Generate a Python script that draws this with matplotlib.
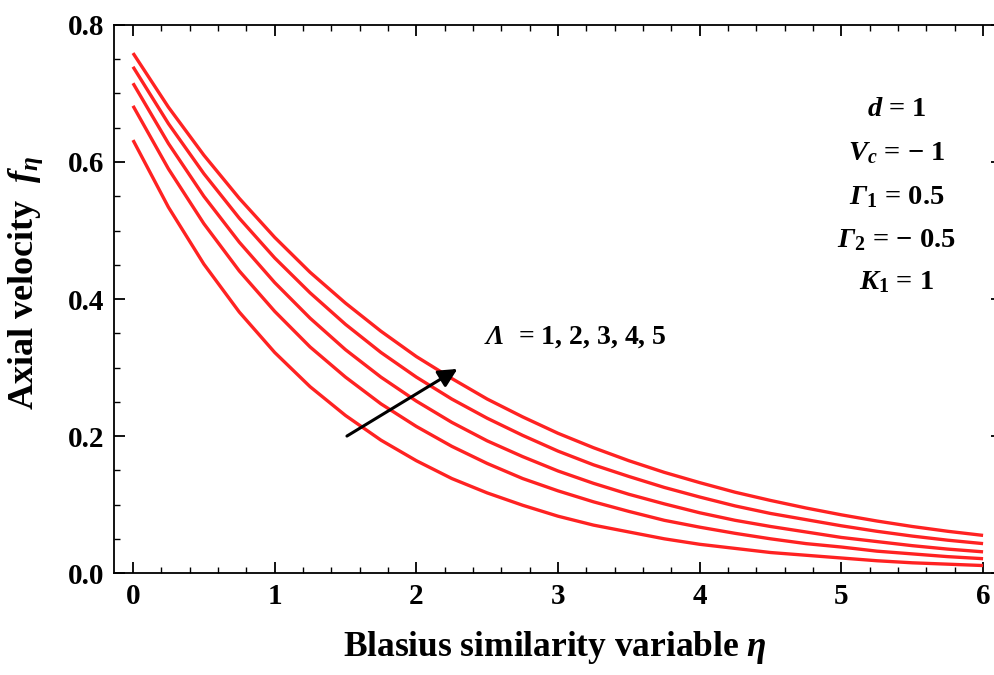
import matplotlib.pyplot as plt
from matplotlib.ticker import MultipleLocator

# --- data ---
eta = [0.0, 0.25, 0.5, 0.75, 1.0, 1.25, 1.5, 1.75, 2.0, 2.25, 2.5, 2.75, 3.0,
       3.25, 3.5, 3.75, 4.0, 4.25, 4.5, 4.75, 5.0, 5.25, 5.5, 5.75, 6.0]

f_lam1 = [0.632, 0.534, 0.451, 0.381, 0.322, 0.272, 0.230, 0.194, 0.164, 0.138,
          0.117, 0.099, 0.083, 0.070, 0.060, 0.050, 0.042, 0.036, 0.030, 0.026,
          0.022, 0.018, 0.015, 0.013, 0.011]
f_lam2 = [0.682, 0.590, 0.510, 0.441, 0.382, 0.330, 0.286, 0.247, 0.214, 0.185,
          0.160, 0.138, 0.120, 0.104, 0.090, 0.077, 0.067, 0.058, 0.050, 0.043,
          0.038, 0.032, 0.028, 0.024, 0.021]
f_lam3 = [0.715, 0.627, 0.550, 0.483, 0.424, 0.372, 0.326, 0.286, 0.251, 0.220,
          0.193, 0.170, 0.149, 0.131, 0.115, 0.101, 0.088, 0.077, 0.068, 0.060,
          0.052, 0.046, 0.040, 0.035, 0.031]
f_lam4 = [0.739, 0.656, 0.583, 0.518, 0.460, 0.409, 0.363, 0.322, 0.286, 0.254,
          0.226, 0.201, 0.178, 0.158, 0.141, 0.125, 0.111, 0.098, 0.087, 0.078,
          0.069, 0.061, 0.054, 0.048, 0.043]
f_lam5 = [0.759, 0.680, 0.610, 0.547, 0.490, 0.439, 0.394, 0.353, 0.316, 0.284,
          0.254, 0.228, 0.204, 0.183, 0.164, 0.147, 0.132, 0.118, 0.106, 0.095,
          0.085, 0.076, 0.068, 0.061, 0.055]
curves = [f_lam1, f_lam2, f_lam3, f_lam4, f_lam5]

lam_label = r'$\mathsf{\Lambda}$  = 1, 2, 3, 4, 5'
param_labels = [r'$d$ = 1', r'$V_c$ = − 1', r'$\mathsf{\Gamma}_1$ = 0.5',
                r'$\mathsf{\Gamma}_2$ = − 0.5', r'$K_1$ = 1']

# --- fonts: bold Times-like everywhere ---
plt.rcParams['font.family'] = 'serif'
plt.rcParams['font.serif'] = ['Liberation Serif', 'DejaVu Serif']
plt.rcParams['font.weight'] = 'bold'
plt.rcParams['mathtext.fontset'] = 'custom'
plt.rcParams['mathtext.rm'] = 'Liberation Serif:bold'
plt.rcParams['mathtext.bf'] = 'Liberation Serif:bold'
plt.rcParams['mathtext.it'] = 'Liberation Serif:italic:bold'
plt.rcParams['mathtext.sf'] = 'Liberation Serif:italic:bold'

fig = plt.figure(figsize=(9.95, 6.75), dpi=100)
ax = fig.add_axes([0.1146, 0.151, 0.8925, 0.812])

for f in curves:
    ax.plot(eta, f, color='#ff2222', lw=2.4, solid_capstyle='butt')

ax.set_xlim(-0.134, 6.134)
ax.set_ylim(0, 0.8)
ax.xaxis.set_major_locator(MultipleLocator(1))
ax.xaxis.set_minor_locator(MultipleLocator(0.2))
ax.yaxis.set_major_locator(MultipleLocator(0.2))
ax.yaxis.set_minor_locator(MultipleLocator(0.05))
ax.tick_params(which='both', direction='in', top=True, right=True, labelsize=21)
ax.tick_params(which='major', length=8, width=1.3, pad=7)
ax.tick_params(which='minor', length=4.5, width=1.0)
for s in ax.spines.values():
    s.set_linewidth(1.3)
ax.spines['right'].set_visible(False)  # cut off by the frame in the original

fig.text(555 / 995, 1 - 647 / 675, r'Blasius similarity variable $\eta$',
         fontsize=25.5, ha='center', va='center')
fig.text(26 / 995, 1 - 283 / 675, r'Axial velocity  $f_\eta$',
         fontsize=26, ha='center', va='center', rotation=90)

# annotations
ax.annotate('', xy=(2.29, 0.298), xytext=(1.51, 0.2),
            arrowprops=dict(arrowstyle='-|>', color='black', lw=2.2,
                            mutation_scale=28, shrinkA=0, shrinkB=0))
ax.text(2.48, 0.345, lam_label, fontsize=20, ha='left', va='center')

param_y = [0.676, 0.613, 0.549, 0.486, 0.425]
for lab, yy in zip(param_labels, param_y):
    ax.text(5.39, yy, lab, fontsize=20.5, ha='center', va='center')

fig.savefig('out.png', dpi=100)
